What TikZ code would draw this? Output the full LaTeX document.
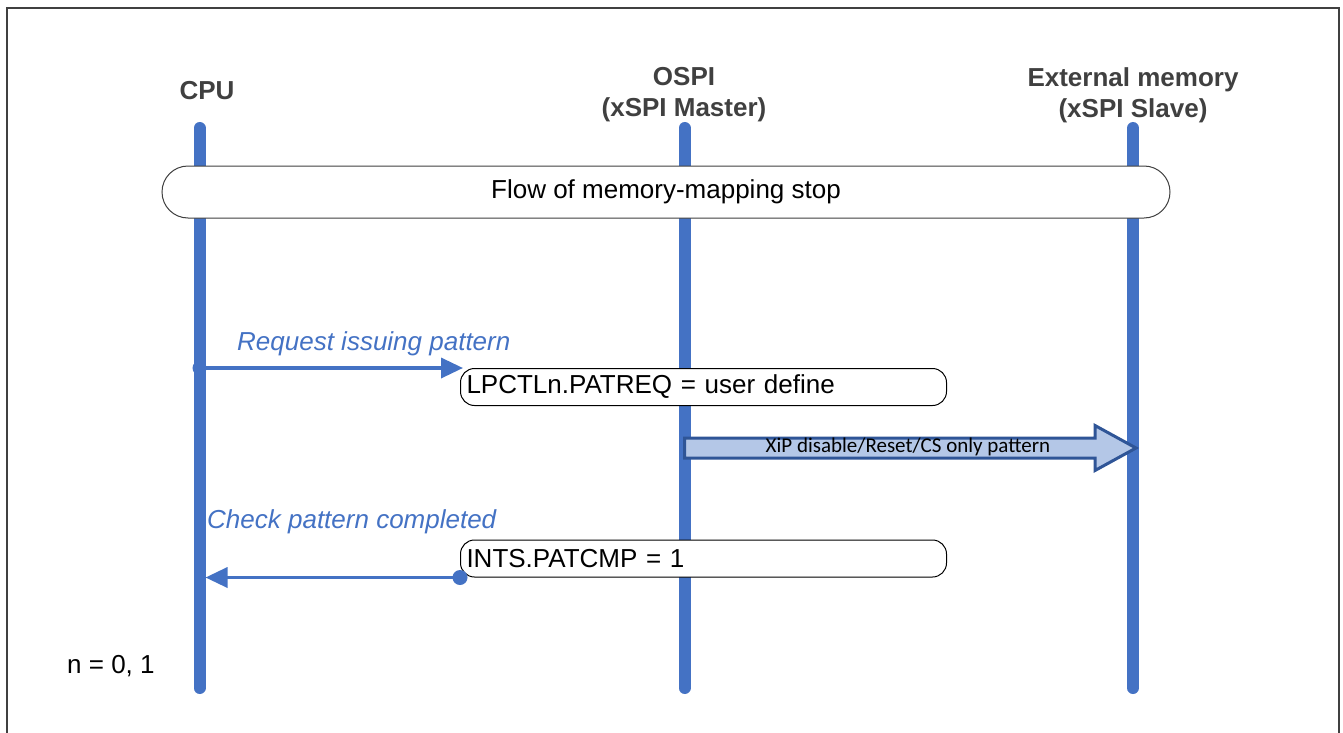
\documentclass[tikz,border=0pt]{standalone}
\usepackage{fontspec}
\setmainfont{Liberation Sans}
\newfontfamily\calfont{Carlito}
\usetikzlibrary{arrows.meta}
\definecolor{lifeblue}{HTML}{4472C4}
\definecolor{titlegray}{HTML}{404040}
\definecolor{framegray}{HTML}{404040}
\definecolor{arrowfill}{HTML}{B4C7E7}
\definecolor{arrowedge}{HTML}{2F5597}
\definecolor{boxedge}{HTML}{404040}
\tikzset{
  lifeline/.style={draw=lifeblue, line width=12pt, line cap=round},
  titletext/.style={font=\bfseries\fontsize{26}{31}\selectfont, text=titlegray, align=center, inner sep=0pt},
  banner/.style={draw=boxedge, line width=1pt, fill=white, rounded corners=26pt, minimum width=1008pt, minimum height=52pt, inner sep=0pt, font=\fontsize{26}{30}\selectfont},
  regbox/.style={draw=black, line width=1pt, fill=white, rounded corners=14pt, minimum height=37pt, text width=474pt, inner xsep=6pt, inner ysep=0pt, align=left, anchor=north west, font=\fontsize{26}{30}\selectfont},
  msg/.style={draw=lifeblue, line width=3.5pt, -{Triangle[length=22pt, width=20pt]}},
  msglabel/.style={text=lifeblue, font=\itshape\fontsize{26}{30}\selectfont, inner sep=0pt, anchor=base west},
  blockarrow/.style={draw=arrowedge, line width=3pt, fill=arrowfill, line join=miter},
  plain/.style={font=\fontsize{26}{30}\selectfont, inner sep=0pt, anchor=base west}
}
\begin{document}
\begin{tikzpicture}[x=1pt, y=-1pt]
\useasboundingbox (0,0) rectangle (1343,733);
\draw[framegray, line width=2pt] (7,740) -- (7,8) -- (1339,8) -- (1339,740);
% titles
\node[titletext] (cpuT) at (207,91) {CPU};
\node[titletext] (ospiT) at (684,95) {OSPI\\(xSPI Master)};
\node[titletext] (memT) at (1133,95) {External memory\\(xSPI Slave)};
% lifelines
\coordinate (cpuTop) at (199.5,128);
\coordinate (cpuBot) at (199.5,688);
\coordinate (ospiTop) at (684.5,128);
\coordinate (ospiBot) at (684.5,688);
\coordinate (memTop) at (1133,128);
\coordinate (memBot) at (1133,688);
\draw[lifeline] (cpuTop) -- (cpuBot);
\draw[lifeline] (ospiTop) -- (ospiBot);
\draw[lifeline] (memTop) -- (memBot);
% banner
\node[banner] (flow) at (666,192) {Flow of memory-mapping stop};
% request
\node[regbox] (b1) at (460,368) {LPCTLn.PATREQ = user define};
\coordinate (req) at (199.5,368);
\fill[lifeblue] (req) circle (7pt);
\draw[msg] (req) -- ([xshift=3pt]b1.north west);
\node[msglabel] (reqL) at (237,350) {Request issuing pattern};
% block arrow
\coordinate (xs) at (684.5,448);
\coordinate (xe) at (1136,448);
\draw[blockarrow] ([yshift=-10pt]xs) -- ([xshift=-41pt,yshift=-10pt]xe) -- ([xshift=-41pt,yshift=-22.5pt]xe) -- (xe) -- ([xshift=-41pt,yshift=22.5pt]xe) -- ([xshift=-41pt,yshift=10pt]xe) -- ([yshift=10pt]xs) -- cycle;
\node[font=\calfont\fontsize{21}{24}\selectfont, inner sep=0pt] (xip) at (908,447) {XiP disable/Reset/CS only pattern};
% completion
\node[regbox] (b2) at (460,539.5) {INTS.PATCMP = 1};
\coordinate (cmpx) at (205.5,0);
\draw[msg] (b2.south west) -- (b2.south west -| cmpx);
\fill[lifeblue] (b2.south west) circle (7.5pt);
\node[msglabel] (cmpL) at (207,528) {Check pattern completed};
% note
\node[plain] (note) at (67,673) {n = 0, 1};
\end{tikzpicture}
\end{document}
